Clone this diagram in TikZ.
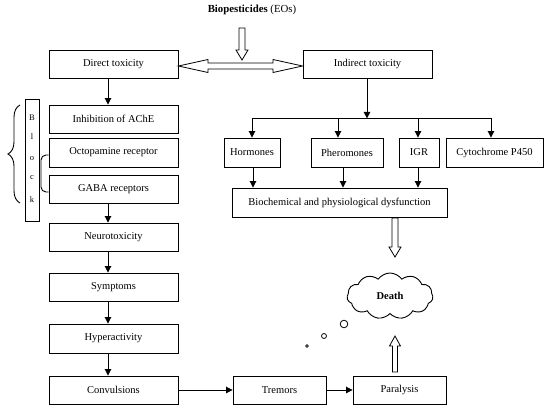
\documentclass[tikz,border=0pt]{standalone}
\usepackage{fontspec}
\setmainfont{Liberation Serif}
\usetikzlibrary{arrows.meta,shapes.symbols,decorations.pathreplacing,calc}
\begin{document}
\begin{tikzpicture}[x=1pt,y=-1pt,
  box/.style={draw,line width=0.9pt,rectangle,minimum height=28pt,inner sep=0pt,font=\fontsize{10.5}{12}\selectfont},
  arr/.style={line width=0.9pt,-{Triangle[length=6.5pt,width=6.5pt]}},
  ln/.style={line width=0.9pt},
  hollow/.style={draw,line width=0.8pt,fill=white,line join=miter}]
\useasboundingbox (0,0) rectangle (550,410);
\node[font=\fontsize{10.8}{12}\selectfont] (title) at (252,10) {\textbf{Biopesticides} (EOs)};
% left column
\node[box,minimum width=129pt] (dt) at (113.5,64) {Direct toxicity};
\node[box,minimum width=129pt] (it) at (367.5,64) {Indirect toxicity};
\node[box,minimum width=129pt] (inh) at (113.5,119) {Inhibition of AChE};
\node[box,minimum width=129pt,minimum height=29pt] (oct) at (113.5,152.5) {Octopamine receptor};
\node[box,minimum width=129pt] (gaba) at (113.5,189) {GABA receptors};
\node[box,minimum width=129pt] (neuro) at (113.5,237) {Neurotoxicity};
\node[box,minimum width=129pt] (symp) at (113.5,287) {Symptoms};
\node[box,minimum width=129pt,minimum height=29pt] (hyper) at (113.5,338.5) {Hyperactivity};
\node[box,minimum width=129pt] (conv) at (113.5,390) {Convulsions};
\node[box,minimum width=93pt] (trem) at (279.5,390) {Tremors};
\node[box,minimum width=93pt] (para) at (399.5,390) {Paralysis};
% right side
\node[box,minimum width=56pt,minimum height=29pt] (horm) at (252,152.5) {Hormones};
\node[box,minimum width=72pt,minimum height=29pt] (pher) at (347,152.5) {Pheromones};
\node[box,minimum width=40pt,minimum height=29pt] (igr) at (419,152.5) {IGR};
\node[box,minimum width=97pt,minimum height=29pt] (cyto) at (494.5,152.5) {Cytochrome P450};
\node[box,minimum width=215pt,minimum height=29pt] (bio) at (339.5,202.5) {Biochemical and physiological dysfunction};
% Block
\node[draw,line width=0.9pt,minimum width=14pt,minimum height=122pt,inner sep=0pt] (block) at (32,160) {};
\foreach \l/\yy in {B/118,l/137,o/159,c/178,k/200}
  \node[font=\fontsize{8.5}{9}\selectfont] at (32,\yy) {\l};
% braces
\draw[ln,decorate,decoration={brace,amplitude=12pt}] (20,203) -- (20,105);
\draw[ln,rounded corners=5pt] (oct.west |- 0,155) -- (41,155) -- (41,192) -- (gaba.west |- 0,192);
% arrows left column
\draw[arr] ([xshift=-5.5pt]dt.south) -- ([xshift=-5.5pt]inh.north);
\draw[arr] ([xshift=-5.5pt]gaba.south) -- ([xshift=-5.5pt]neuro.north);
\draw[arr] ([xshift=-5.5pt]neuro.south) -- ([xshift=-5.5pt]symp.north);
\draw[arr] ([xshift=-5.5pt]symp.south) -- ([xshift=-5.5pt]hyper.north);
\draw[arr] ([xshift=-5.5pt]hyper.south) -- ([xshift=-5.5pt]conv.north);
\draw[arr] (conv.east) -- (trem.west);
\draw[arr] (trem.east) -- (para.west);
% indirect tree
\coordinate (split) at (367,118);
\draw[arr] (it.south -| split) -- ([yshift=-0.4pt]split);
\draw[ln] (horm.north |- split) -- ([xshift=-3.5pt]cyto.north |- split);
\draw[arr] (horm.north |- split) -- (horm.north);
\draw[arr] ([xshift=-9pt]pher.north |- split) -- ([xshift=-9pt]pher.north);
\draw[arr] ([xshift=-1pt]igr.north |- split) -- ([xshift=-1pt]igr.north);
\draw[arr] ([xshift=-3.5pt]cyto.north |- split) -- ([xshift=-3.5pt]cyto.north);
\draw[arr] ([xshift=1pt]horm.south) -- ([xshift=1pt]horm.south |- bio.north);
\draw[arr] ([xshift=-4pt]pher.south) -- ([xshift=-4pt]pher.south |- bio.north);
\draw[arr] ([xshift=-1pt]igr.south) -- ([xshift=-1pt]igr.south |- bio.north);
% hollow arrows
\draw[hollow] (239,28) -- (245,28) -- (245,50) -- (248,50) -- (242,60) -- (236,50) -- (239,50) -- cycle;
\draw[hollow] (dt.east |- 0,66) -- (208,59.5) -- (208,63) -- (273,63) -- (273,59.5) -- (it.west |- 0,66) -- (273,72.5) -- (273,69) -- (208,69) -- (208,72.5) -- cycle;
\draw[hollow] (392,218) -- (398,218) -- (398,247) -- (401,247) -- (395,257) -- (389,247) -- (392,247) -- cycle;
\draw[hollow] (392.5,372) -- (397.5,372) -- (397.5,346) -- (400.5,346) -- (395,336) -- (389.5,346) -- (392.5,346) -- cycle;
% death cloud
\node[cloud,draw,line width=0.9pt,cloud puffs=11,cloud puff arc=110,aspect=1.9,minimum width=86pt,minimum height=46pt,inner sep=0pt,font=\bfseries\fontsize{10.5}{12}\selectfont] (death) at (390,296) {Death};
\draw[line width=0.8pt] (344,324) circle (3.8pt);
\draw[line width=0.8pt] (324,336) circle (2.5pt);
\draw[line width=0.8pt] (307,346) circle (1.4pt);
\end{tikzpicture}
\end{document}
